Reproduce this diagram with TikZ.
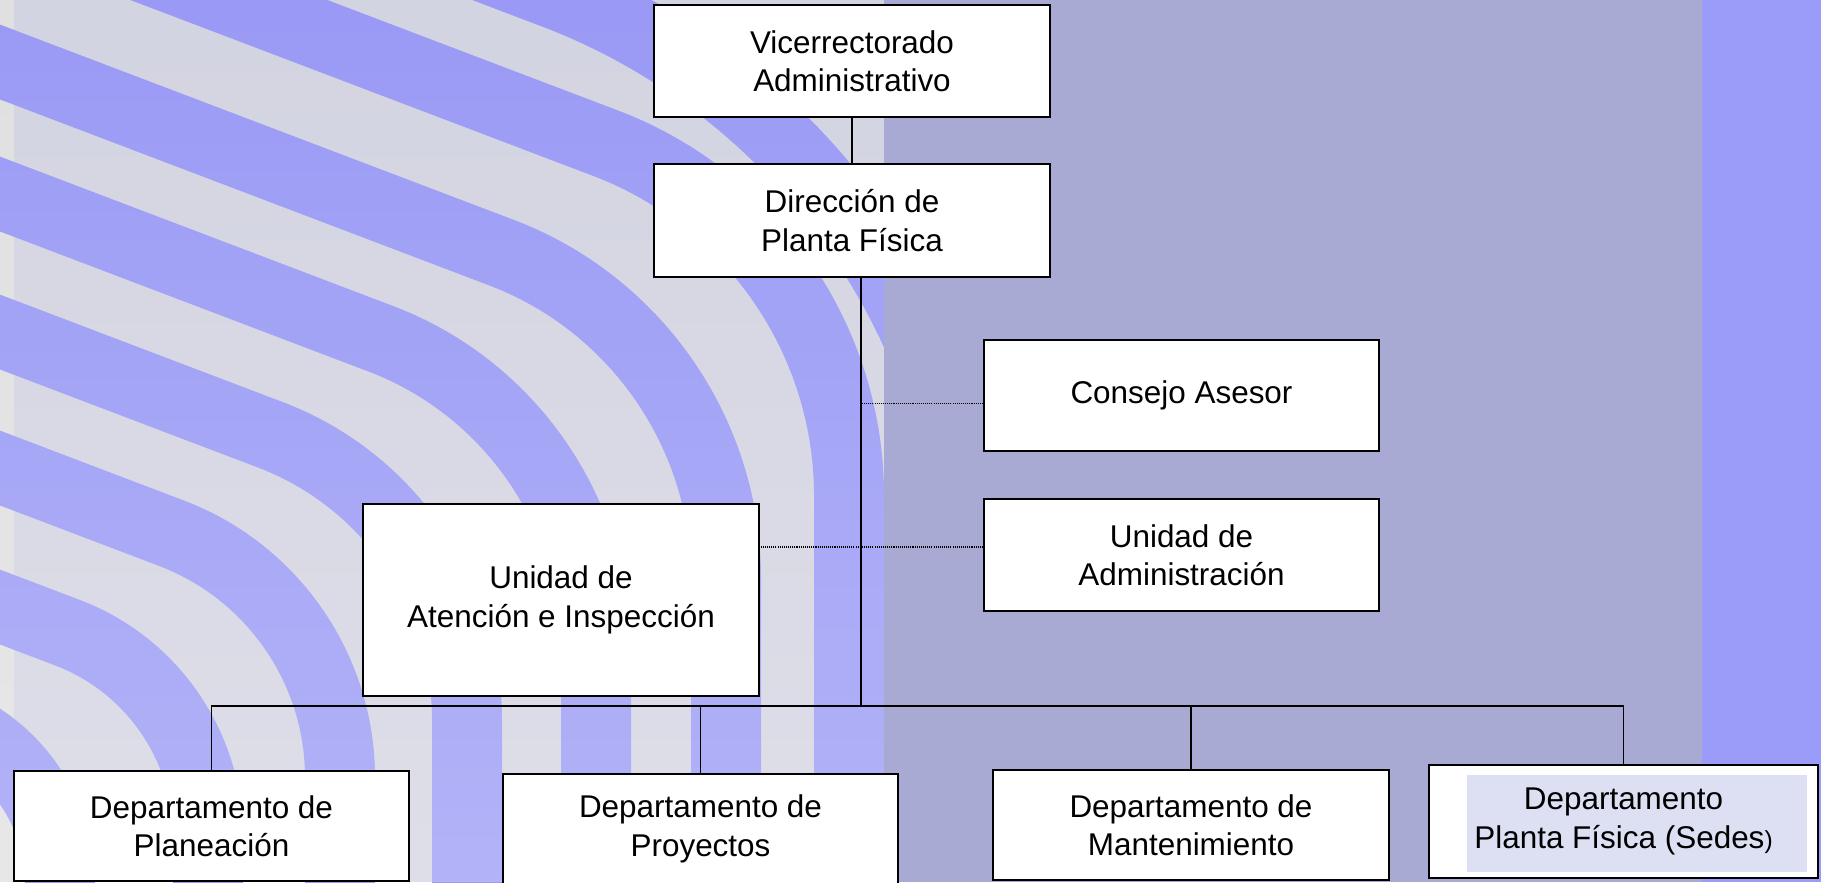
\documentclass[tikz,border=0pt]{standalone}
\usepackage{fontspec}
\setmainfont{Liberation Sans}
\usetikzlibrary{calc}
\usetikzlibrary{fadings}

\definecolor{bandgrey}{HTML}{D3D4E1}
\definecolor{bandblue}{HTML}{9A9AF6}
\definecolor{midblue}{HTML}{A9AAD4}
\definecolor{edgeblue}{HTML}{9B9BF9}
\definecolor{sedesfill}{HTML}{DCE0F2}

\begin{document}
\begin{tikzpicture}[x=0.02cm, y=-0.02cm,
    unit/.style={draw, line width=1.1pt, fill=white, align=center,
      minimum width=7.9cm, minimum height=2.22cm, inner sep=0pt,
      font=\fontsize{17.9}{21.9}\selectfont},
    link/.style={line width=0.8pt},
    advice/.style={line width=0.6pt, dash pattern=on 0.6pt off 0.6pt},
    band/.style={bandblue, line width=1.4cm}]
  % background
  \useasboundingbox (0,0) rectangle (1821,882);
  \fill[bandgrey] (0,0) rectangle (884,882);
  \fill[black!12] (0,0) rectangle (14,882);
  \fill[midblue] (884,0) rectangle (1702,882);
  \fill[edgeblue] (1702,0) rectangle (1821,882);
  \begin{scope}
    \clip (0,0) rectangle (884,882);
    \foreach \ys/\xb/\d in {-217/975/450, -87/849/260, 62/726/240, 194/596/230,
        332/467/210, 468/340/180, 607/208/150, 741/60/120} {
      \pgfmathsetmacro{\cy}{\ys+0.38*\xb}
      \draw[band] (-400,{\ys-152}) -- ({\xb-0.935*\d},{\cy-0.355*\d})
        .. controls ({\xb-0.374*\d},{\cy-0.142*\d}) and (\xb,{\cy+0.4*\d})
        .. (\xb,{\cy+\d}) -- (\xb,950);
    }
    % lighter towards the bottom
    \fill[white, fill opacity=0.25, path fading=north] (0,0) rectangle (884,882);
  \end{scope}

  \node[unit, minimum width=7.92cm, minimum height=2.24cm] (vic) at (852,61) {Vicerrectorado\\Administrativo};
  \node[unit, minimum width=7.92cm, minimum height=2.26cm] (dir) at (852,220.5) {Dirección de\\Planta Física};
  \node[unit] (cons) at (1181.5,395.5) {Consejo Asesor};
  \node[unit, minimum height=2.24cm] (uadm) at (1181.5,555) {Unidad de\\Administración};
  \node[unit, minimum width=7.92cm, minimum height=3.84cm] (aten) at (561,600) {Unidad de\\Atención e Inspección};
  \node[unit, minimum height=2.2cm] (plan) at (211.5,826) {Departamento de\\Planeación};
  \node[unit, minimum height=2.2cm] (proy) at (700.5,829) {Departamento de\\Proyectos};
  \node[unit, minimum width=7.92cm, minimum height=2.2cm] (mant) at (1191,825) {Departamento de\\Mantenimiento};
  \node[unit, minimum width=7.78cm, minimum height=2.26cm,
    path picture={\fill[sedesfill] ($(path picture bounding box.north west)+(38,10)$)
      rectangle ($(path picture bounding box.south east)+(-11,-6)$);}]
    (sedes) at (1623.5,821.5) {Departamento\\Planta Física (Sedes{\fontsize{14}{21.9}\selectfont)}};

  \coordinate (hub) at (861,706);
  \coordinate (consin) at ($(cons.west)+(0,8)$);
  \coordinate (uadmin) at ($(uadm.west)+(0,-8)$);

  \draw[link] (vic.south) -- (dir.north);
  \draw[link] (dir.south -| hub) -- (hub);
  \foreach \dept in {plan,proy,mant,sedes}
    \draw[link] (hub) -| (\dept.north);
  \draw[advice] (consin) -- (consin -| hub);
  \draw[advice] (uadmin) -- (uadmin -| aten.east);
\end{tikzpicture}
\end{document}
